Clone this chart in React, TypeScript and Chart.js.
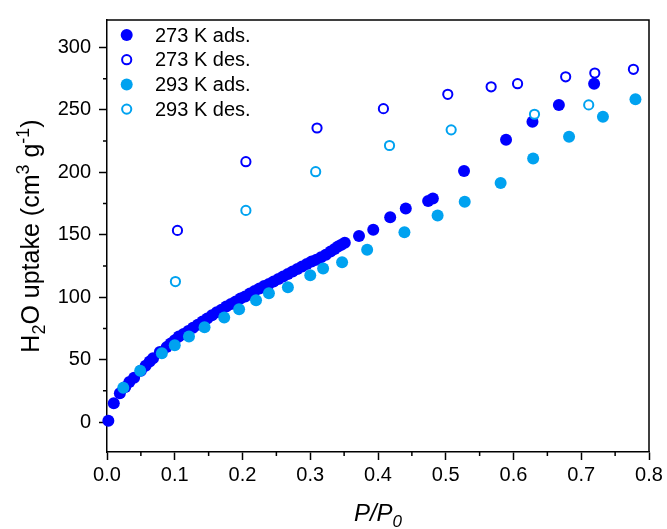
import React, { useEffect, useRef } from 'react';
import { Chart, registerables } from 'chart.js';

Chart.register(...registerables);

// ---- data ----
const seriesLabels = ['273 K ads.', '273 K des.', '293 K ads.', '293 K des.'];

const ads273X = [0.002, 0.010, 0.019, 0.027, 0.033, 0.040, 0.050, 0.057, 0.063, 0.068, 0.078, 0.088, 0.094, 0.100, 0.106, 0.113, 0.120, 0.127, 0.134, 0.141, 0.148, 0.155, 0.162, 0.169, 0.176, 0.183, 0.190, 0.197, 0.204, 0.211, 0.218, 0.225, 0.232, 0.239, 0.246, 0.253, 0.260, 0.267, 0.274, 0.281, 0.288, 0.295, 0.302, 0.309, 0.316, 0.323, 0.330, 0.336, 0.341, 0.346, 0.351, 0.372, 0.393, 0.418, 0.441, 0.474, 0.481, 0.527, 0.589, 0.628, 0.667, 0.719];
const ads273Y = [1, 15, 23, 28, 32, 35.5, 41, 45, 48.5, 51, 56, 60, 63, 65.5, 68.5, 70.5, 73, 75.5, 78, 80.5, 83, 85.5, 88, 90, 92.5, 94.5, 96.5, 99, 100.5, 103, 105, 107, 109, 110.5, 112.5, 114.5, 116.5, 118.5, 120.5, 122.5, 124.5, 126.5, 128.5, 130, 132, 134, 136.5, 138.5, 140.5, 142, 143.5, 149, 154, 164, 171, 177, 179, 201, 226, 240.5, 254, 271];

const des273X = [0.104, 0.205, 0.310, 0.408, 0.503, 0.567, 0.606, 0.677, 0.720, 0.777];
const des273Y = [153.5, 208.5, 235.5, 251, 262.5, 268.5, 271, 276.5, 279.5, 282.5];

const ads293X = [0.024, 0.049, 0.081, 0.100, 0.121, 0.144, 0.173, 0.195, 0.220, 0.239, 0.267, 0.300, 0.319, 0.347, 0.384, 0.439, 0.488, 0.528, 0.581, 0.629, 0.682, 0.732, 0.780];
const ads293Y = [27.5, 41, 55, 61.5, 68.5, 75.9, 83.8, 90.4, 97.5, 103.1, 108, 117.5, 123, 128, 138, 152, 165.5, 176.5, 191.5, 211, 228.5, 244.5, 258.5];

const des293X = [0.101, 0.205, 0.308, 0.417, 0.508, 0.631, 0.711];
const des293Y = [112.5, 169.5, 200.5, 221.5, 234, 246.5, 254];

const xTickValues = [0, 0.1, 0.2, 0.3, 0.4, 0.5, 0.6, 0.7, 0.8];
const xMinorTicks = [0.05, 0.15, 0.25, 0.35, 0.45, 0.55, 0.65, 0.75];
const yTickValues = [0, 50, 100, 150, 200, 250, 300];
const yMinorTicks = [25, 75, 125, 175, 225, 275];

// ---- styles ----
const BLUE = '#0000ff';
const CYAN = 'rgb(0,162,240)';
const FONT = "'Liberation Sans', Arial, sans-serif";

type Seg = { t: string; italic?: boolean; shift?: 'sub' | 'sup' };

const yTitle: Seg[] = [
  { t: 'H' }, { t: '2', shift: 'sub' }, { t: 'O uptake (cm' }, { t: '3', shift: 'sup' },
  { t: ' g' }, { t: '-1', shift: 'sup' }, { t: ')' },
];
const xTitle: Seg[] = [{ t: 'P/P', italic: true }, { t: '0', italic: true, shift: 'sub' }];

function drawRich(ctx: CanvasRenderingContext2D, segs: Seg[], size: number, cx: number, baseline: number) {
  const fontFor = (s: Seg) => `${s.italic ? 'italic ' : ''}${s.shift ? Math.round(size * 0.7) : size}px ${FONT}`;
  let total = 0;
  const widths = segs.map((s) => {
    ctx.font = fontFor(s);
    const w = ctx.measureText(s.t).width;
    total += w;
    return w;
  });
  let x = cx - total / 2;
  ctx.textAlign = 'left';
  ctx.textBaseline = 'alphabetic';
  segs.forEach((s, i) => {
    ctx.font = fontFor(s);
    const dy = s.shift === 'sub' ? size * 0.24 : s.shift === 'sup' ? -size * 0.4 : 0;
    ctx.fillText(s.t, x, baseline + dy);
    x += widths[i];
  });
}

const decorPlugin = {
  id: 'decor',
  afterDraw(chart: any) {
    const { ctx, chartArea, scales } = chart;
    const { left, right, top, bottom } = chartArea;
    ctx.save();
    ctx.strokeStyle = '#000';
    ctx.lineWidth = 1.5;
    // top and right frame
    ctx.beginPath();
    ctx.moveTo(left, top);
    ctx.lineTo(right, top);
    ctx.lineTo(right, bottom);
    ctx.stroke();
    // minor ticks
    ctx.beginPath();
    xMinorTicks.forEach((v) => {
      const px = scales.x.getPixelForValue(v);
      ctx.moveTo(px, bottom);
      ctx.lineTo(px, bottom + 4);
    });
    yMinorTicks.forEach((v) => {
      const py = scales.y.getPixelForValue(v);
      ctx.moveTo(left, py);
      ctx.lineTo(left - 4, py);
    });
    ctx.stroke();

    // axis titles
    ctx.fillStyle = '#000';
    drawRich(ctx, xTitle, 24, (left + right) / 2, 521);
    ctx.save();
    ctx.translate(39, (top + bottom) / 2);
    ctx.rotate(-Math.PI / 2);
    drawRich(ctx, yTitle, 25, 0, 0);
    ctx.restore();

    // legend
    const rowY0 = 35;
    const rowGap = 24.7;
    chart.data.datasets.forEach((ds: any, i: number) => {
      const y = rowY0 + i * rowGap;
      const mx = 126.7;
      ctx.beginPath();
      ctx.arc(mx, y, ds.pointRadius, 0, Math.PI * 2);
      ctx.fillStyle = ds.pointBackgroundColor;
      ctx.fill();
      if (ds.pointBorderWidth > 0) {
        ctx.lineWidth = ds.pointBorderWidth;
        ctx.strokeStyle = ds.pointBorderColor;
        ctx.stroke();
      }
      ctx.fillStyle = '#000';
      ctx.font = `20px ${FONT}`;
      ctx.textAlign = 'left';
      ctx.textBaseline = 'middle';
      ctx.fillText(ds.label, 155, y + 1);
    });
    ctx.restore();
  },
};

const toPoints = (xs: number[], ys: number[]) => xs.map((x, i) => ({ x, y: ys[i] }));

export default function App() {
  const ref = useRef<HTMLCanvasElement>(null);

  useEffect(() => {
    if (!ref.current) return;
    const filled = (color: string) => ({
      pointRadius: 6,
      pointBackgroundColor: color,
      pointBorderColor: color,
      pointBorderWidth: 0,
    });
    const open = (color: string) => ({
      pointRadius: 4.6,
      pointBackgroundColor: '#ffffff',
      pointBorderColor: color,
      pointBorderWidth: 2,
    });
    const chart = new Chart(ref.current, {
      type: 'scatter',
      data: {
        datasets: [
          { label: seriesLabels[0], data: toPoints(ads273X, ads273Y), order: 4, clip: false, showLine: false, ...filled(BLUE) },
          { label: seriesLabels[1], data: toPoints(des273X, des273Y), order: 3, clip: false, showLine: false, ...open(BLUE) },
          { label: seriesLabels[2], data: toPoints(ads293X, ads293Y), order: 2, clip: false, showLine: false, ...filled(CYAN) },
          { label: seriesLabels[3], data: toPoints(des293X, des293Y), order: 1, clip: false, showLine: false, ...open(CYAN) },
        ] as any,
      },
      options: {
        responsive: false,
        animation: false,
        layout: { padding: { top: 15, right: 18, left: 0, bottom: 0 } },
        plugins: { legend: { display: false }, tooltip: { enabled: false } },
        events: [],
        scales: {
          x: {
            type: 'linear',
            min: 0,
            max: 0.8,
            afterBuildTicks: (s: any) => { s.ticks = xTickValues.map((v) => ({ value: v })); },
            afterFit: (s: any) => { s.height = 77; },
            ticks: {
              font: { family: FONT, size: 20 },
              color: '#000',
              padding: 3,
              maxRotation: 0,
              autoSkip: false,
              callback: (v: any) => Number(v).toFixed(1),
            },
            grid: { display: true, drawOnChartArea: false, drawTicks: true, tickLength: 8, tickColor: '#000', tickWidth: 1.5 },
            border: { display: true, color: '#000', width: 1.5 },
          },
          y: {
            type: 'linear',
            min: -24,
            max: 322,
            afterBuildTicks: (s: any) => { s.ticks = yTickValues.map((v) => ({ value: v })); },
            afterFit: (s: any) => { s.width = 107; },
            ticks: {
              font: { family: FONT, size: 20 },
              color: '#000',
              padding: 8,
              autoSkip: false,
              callback: (v: any) => String(v),
            },
            grid: { display: true, drawOnChartArea: false, drawTicks: true, tickLength: 8, tickColor: '#000', tickWidth: 1.5 },
            border: { display: true, color: '#000', width: 1.5 },
          },
        },
      } as any,
      plugins: [decorPlugin],
    });
    return () => chart.destroy();
  }, []);

  return (
    <div style={{ position: 'fixed', left: 0, top: 0, width: 667, height: 529, background: '#fff' }}>
      <canvas ref={ref} width={667} height={529} style={{ display: 'block' }} />
    </div>
  );
}
